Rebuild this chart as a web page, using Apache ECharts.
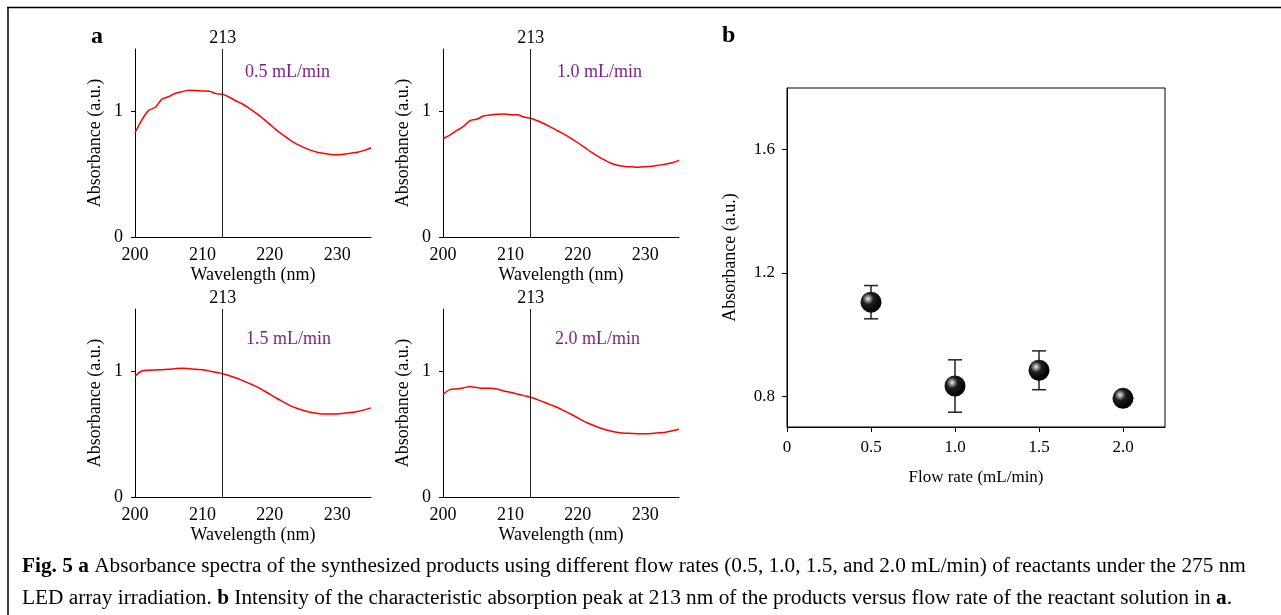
<!DOCTYPE html>
<html>
<head>
<meta charset="utf-8">
<script src="https://cdn.jsdelivr.net/npm/echarts@6/dist/echarts.min.js"></script>
<style>
  html, body { margin: 0; padding: 0; background: #fff; }
  #chart { width: 1281px; height: 615px; }
</style>
</head>
<body>
<div id="chart"></div>
<script>
  // panel a: spectra at 1 nm steps
  const WAVELENGTH = [200, 201, 202, 203, 204, 205, 206, 207, 208, 209, 210, 211, 212, 213, 214, 215, 216, 217,
    218, 219, 220, 221, 222, 223, 224, 225, 226, 227, 228, 229, 230, 231, 232, 233, 234, 235];
  const A_05 = [0.832, 0.933, 1.008, 1.035, 1.100, 1.120, 1.147, 1.160, 1.171, 1.168, 1.165, 1.163, 1.144, 1.139,
    1.115, 1.085, 1.059, 1.024, 0.987, 0.944, 0.899, 0.853, 0.813, 0.773, 0.741, 0.715, 0.693, 0.677, 0.667,
    0.659, 0.656, 0.661, 0.669, 0.677, 0.691, 0.712];
  const A_10 = [0.784, 0.813, 0.848, 0.880, 0.928, 0.939, 0.965, 0.973, 0.979, 0.981, 0.976, 0.976, 0.957, 0.947,
    0.928, 0.904, 0.877, 0.848, 0.819, 0.787, 0.752, 0.715, 0.677, 0.643, 0.613, 0.587, 0.571, 0.563, 0.560,
    0.557, 0.560, 0.565, 0.573, 0.581, 0.592, 0.611];
  const A_15 = [0.963, 1.005, 1.011, 1.013, 1.016, 1.019, 1.024, 1.027, 1.024, 1.019, 1.016, 1.005, 0.995, 0.984,
    0.968, 0.950, 0.928, 0.905, 0.881, 0.851, 0.820, 0.788, 0.759, 0.729, 0.708, 0.690, 0.676, 0.668, 0.663,
    0.663, 0.663, 0.668, 0.674, 0.682, 0.695, 0.711];
  const A_20 = [0.817, 0.857, 0.862, 0.870, 0.881, 0.873, 0.867, 0.867, 0.862, 0.846, 0.836, 0.822, 0.809, 0.796,
    0.777, 0.756, 0.735, 0.714, 0.687, 0.660, 0.631, 0.602, 0.578, 0.557, 0.538, 0.525, 0.515, 0.509, 0.507,
    0.504, 0.504, 0.507, 0.512, 0.517, 0.528, 0.541];
  const PANEL_LABELS = ['0.5 mL/min', '1.0 mL/min', '1.5 mL/min', '2.0 mL/min'];
  const PEAK = 213;
  const WL_TICKS = [200, 210, 220, 230];
  const ABS_TICKS = [0, 1];

  // panel b: absorbance at 213 nm vs flow rate
  const FLOW = [0.5, 1.0, 1.5, 2.0];
  const PEAK_ABS = [1.105, 0.833, 0.884, 0.793];
  const PEAK_ERR = [0.054, 0.085, 0.063, 0.01];
  const FLOW_TICKS = [0, 0.5, 1.0, 1.5, 2.0];
  const PEAK_TICKS = [0.8, 1.2, 1.6];

  const FONT = 'Liberation Serif';
  const INK = '#000';
  const PURPLE = '#7b1f7f';

  const chart = echarts.init(document.getElementById('chart'));

  const spectra = [A_05, A_10, A_15, A_20];
  const gridsA = [
    { left: 135, top: 49, width: 236, height: 188 },
    { left: 443, top: 49, width: 236, height: 188 },
    { left: 135, top: 309, width: 236, height: 188 },
    { left: 443, top: 309, width: 236, height: 188 },
  ];

  const grid = gridsA.slice();
  grid.push({ left: 787, top: 88, width: 378, height: 339, show: true, borderColor: INK, borderWidth: 1 });

  const xAxis = [];
  const yAxis = [];
  const series = [];

  gridsA.forEach(function (g, i) {
    xAxis.push({
      gridIndex: i,
      type: 'value',
      min: 200,
      max: 235,
      name: 'Wavelength (nm)',
      nameLocation: 'middle',
      nameGap: 29,
      nameTextStyle: { fontFamily: FONT, fontSize: 18, color: INK },
      axisLine: { lineStyle: { color: INK, width: 1 } },
      axisTick: { show: false },
      splitLine: { show: false },
      axisLabel: { customValues: WL_TICKS, fontFamily: FONT, fontSize: 18, color: INK, margin: 9 },
    });
    yAxis.push({
      gridIndex: i,
      type: 'value',
      min: 0,
      max: 1.5,
      name: 'Absorbance (a.u.)',
      nameLocation: 'middle',
      nameGap: 31,
      nameTextStyle: { fontFamily: FONT, fontSize: 18, color: INK },
      axisLine: { show: true, lineStyle: { color: INK, width: 1 } },
      axisTick: { show: true, customValues: ABS_TICKS, length: 4, lineStyle: { color: INK } },
      splitLine: { show: false },
      axisLabel: { customValues: ABS_TICKS, fontFamily: FONT, fontSize: 18, color: INK, margin: 12 },
    });
    series.push({
      type: 'line',
      xAxisIndex: i,
      yAxisIndex: i,
      data: WAVELENGTH.map(function (w, k) { return [w, spectra[i][k]]; }),
      showSymbol: false,
      smooth: 0.3,
      lineStyle: { color: '#ff0000', width: 1.5 },
      silent: true,
      markLine: {
        symbol: 'none',
        silent: true,
        lineStyle: { color: '#222', width: 1, type: 'solid' },
        label: { show: true, position: 'end', formatter: String(PEAK), fontFamily: FONT, fontSize: 18, color: INK, distance: 2 },
        data: [{ xAxis: PEAK }],
      },
    });
  });

  xAxis.push({
    gridIndex: 4,
    type: 'value',
    min: 0,
    max: 2.25,
    name: 'Flow rate (mL/min)',
    nameLocation: 'middle',
    nameGap: 42,
    nameTextStyle: { fontFamily: FONT, fontSize: 17, color: INK },
    axisLine: { lineStyle: { color: INK, width: 1 } },
    axisTick: { show: true, customValues: FLOW_TICKS, length: 5, lineStyle: { color: INK } },
    splitLine: { show: false },
    axisLabel: {
      customValues: FLOW_TICKS,
      fontFamily: FONT,
      fontSize: 17,
      color: INK,
      margin: 12,
      formatter: function (v) { return v === 0 ? '0' : v.toFixed(1); },
    },
  });
  yAxis.push({
    gridIndex: 4,
    type: 'value',
    min: 0.7,
    max: 1.8,
    name: 'Absorbance (a.u.)',
    nameLocation: 'middle',
    nameGap: 48,
    nameTextStyle: { fontFamily: FONT, fontSize: 18, color: INK },
    axisLine: { show: true, lineStyle: { color: INK, width: 1 } },
    axisTick: { show: true, customValues: PEAK_TICKS, length: 5, lineStyle: { color: INK } },
    splitLine: { show: false },
    axisLabel: {
      customValues: PEAK_TICKS,
      fontFamily: FONT,
      fontSize: 17,
      color: INK,
      margin: 12,
      formatter: function (v) { return v.toFixed(1); },
    },
  });

  // error bars under the markers
  series.push({
    type: 'custom',
    xAxisIndex: 4,
    yAxisIndex: 4,
    z: 2,
    silent: true,
    data: FLOW.map(function (f, i) { return [f, PEAK_ABS[i], PEAK_ERR[i]]; }),
    renderItem: function (params, api) {
      const x = api.value(0), y = api.value(1), e = api.value(2);
      const hi = api.coord([x, y + e]);
      const lo = api.coord([x, y - e]);
      const w = 7;
      const st = { stroke: '#222', lineWidth: 1.5 };
      return {
        type: 'group',
        children: [
          { type: 'line', shape: { x1: hi[0], y1: hi[1], x2: lo[0], y2: lo[1] }, style: st },
          { type: 'line', shape: { x1: hi[0] - w, y1: hi[1], x2: hi[0] + w, y2: hi[1] }, style: st },
          { type: 'line', shape: { x1: lo[0] - w, y1: lo[1], x2: lo[0] + w, y2: lo[1] }, style: st },
        ],
      };
    },
  });
  series.push({
    type: 'scatter',
    xAxisIndex: 4,
    yAxisIndex: 4,
    z: 3,
    silent: true,
    symbol: 'circle',
    symbolSize: 21,
    data: FLOW.map(function (f, i) { return [f, PEAK_ABS[i]]; }),
    itemStyle: {
      opacity: 1,
      color: {
        type: 'radial', x: 0.36, y: 0.34, r: 0.62,
        colorStops: [
          { offset: 0, color: '#f2f2f2' },
          { offset: 0.14, color: '#a8a8a8' },
          { offset: 0.42, color: '#202020' },
          { offset: 1, color: '#000' },
        ],
      },
    },
  });

  const graphic = [
    { type: 'line', shape: { x1: 7, y1: 7.5, x2: 1281, y2: 7.5 }, style: { stroke: INK, lineWidth: 1.5 } },
    { type: 'line', shape: { x1: 8, y1: 7, x2: 8, y2: 615 }, style: { stroke: INK, lineWidth: 1.5 } },
    { type: 'text', left: 91, top: 25, style: { text: 'a', font: 'bold 24px "Liberation Serif"', fill: INK } },
    { type: 'text', left: 722, top: 24, style: { text: 'b', font: 'bold 24px "Liberation Serif"', fill: INK } },
  ];
  const labelPos = [[245, 63], [557, 63], [246, 330], [555, 330]];
  PANEL_LABELS.forEach(function (t, i) {
    graphic.push({
      type: 'text', left: labelPos[i][0], top: labelPos[i][1],
      style: { text: t, fontFamily: FONT, fontSize: 18, fill: PURPLE },
    });
  });
  const CAP = 21.3;
  const rich = {
    b: { fontFamily: FONT, fontSize: CAP, fontWeight: 'bold', fill: INK },
    n: { fontFamily: FONT, fontSize: CAP, fill: INK },
  };
  graphic.push({
    type: 'text', left: 22, top: 556,
    style: {
      text: '{b|Fig. 5 a}{n| Absorbance spectra of the synthesized products using different flow rates (0.5, 1.0, 1.5, and 2.0 mL/min) of reactants under the 275 nm}',
      rich: rich, fontFamily: FONT, fontSize: CAP, fill: INK,
    },
  });
  graphic.push({
    type: 'text', left: 22, top: 588,
    style: {
      text: '{n|LED array irradiation. }{b|b}{n| Intensity of the characteristic absorption peak at 213 nm of the products versus flow rate of the reactant solution in }{b|a}{n|.}',
      rich: rich, fontFamily: FONT, fontSize: CAP, fill: INK,
    },
  });

  chart.setOption({
    backgroundColor: '#fff',
    animation: false,
    grid: grid,
    xAxis: xAxis,
    yAxis: yAxis,
    series: series,
    graphic: graphic,
  });
</script>
</body>
</html>
